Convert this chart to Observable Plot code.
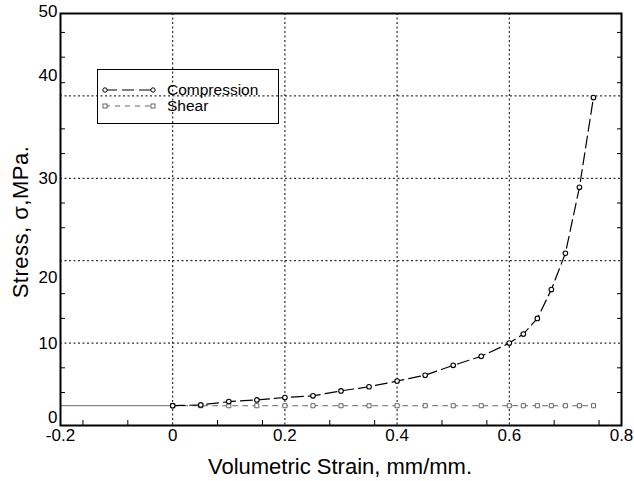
<!DOCTYPE html>
<html>
<head>
<meta charset="utf-8">
<script src="https://cdn.jsdelivr.net/npm/d3@7"></script>
<script src="https://cdn.jsdelivr.net/npm/@observablehq/plot@0.6"></script>
<style>
  html, body { margin: 0; padding: 0; background: #fff; }
  #wrap { position: relative; width: 634px; height: 481px; font-family: "Liberation Sans", Arial, sans-serif; }
  #xtitle { position: absolute; left: 340px; top: 467px; font-size: 22px; white-space: nowrap;
            transform: translate(-50%, -50%); }
  #ytitle { position: absolute; left: 21px; top: 222px; font-size: 22px; white-space: nowrap; letter-spacing: 0.5px;
            transform: translate(-50%, -50%) rotate(-90deg); }
  #legend { position: absolute; left: 97px; top: 69px; width: 180px; height: 53px; border: 1px solid #000; }
  #legend svg { position: absolute; left: 0; top: 0; }
</style>
</head>
<body>
<div id="wrap">
  <div id="chart"></div>
  <div id="xtitle">Volumetric Strain, mm/mm.</div>
  <div id="ytitle">Stress, σ,MPa.</div>
  <div id="legend"></div>
</div>
<script>
// ---- data ----
const strain = [0, 0.05, 0.1, 0.15, 0.2, 0.25, 0.3, 0.35, 0.4, 0.45, 0.5, 0.55, 0.6, 0.625, 0.65, 0.675, 0.7, 0.725, 0.75];
const compression = [2.4, 2.5, 2.9, 3.1, 3.4, 3.6, 4.2, 4.7, 5.4, 6.1, 7.3, 8.4, 10.0, 11.1, 13.0, 16.5, 20.9, 28.9, 39.8];
const shear = [2.4, 2.4, 2.4, 2.4, 2.4, 2.4, 2.4, 2.4, 2.4, 2.4, 2.4, 2.4, 2.4, 2.4, 2.4, 2.4, 2.4, 2.4, 2.4];
const preloadX = [-0.2, 0];
const preloadY = [2.4, 2.4];

const xTickVals = [-0.2, 0, 0.2, 0.4, 0.6, 0.8];
const xTickLabels = ["-0.2", "0", "0.2", "0.4", "0.6", "0.8"];
const xGrid = [0, 0.2, 0.4, 0.6];
const xMinor = [-0.16, -0.08, 0.08, 0.16, 0.28, 0.36, 0.48, 0.56, 0.68, 0.76];

const yTickLabels = ["0", "10", "20", "30", "40", "50"];
const yTickLabelPos = [1.0, 10, 18, 30, 42.5, 50.2];
const yGrid = [10, 20, 30, 40];
const yMinor = [4, 7, 13, 16, 24, 27, 33, 36, 41.6, 44.7, 47.7];

const seriesNames = ["Compression", "Shear"];

// ---- tables ----
const compData = strain.map((x, i) => ({x, y: compression[i]}));
const shearData = strain.map((x, i) => ({x, y: shear[i]}));
const preData = preloadX.map((x, i) => ({x, y: preloadY[i]}));
const xLabelMap = new Map(xTickVals.map((v, i) => [v, xTickLabels[i]]));
const yLabelMap = new Map(yTickLabelPos.map((v, i) => [v, yTickLabels[i]]));

const chart = Plot.plot({
  width: 634,
  height: 481,
  marginLeft: 60,
  marginRight: 13,
  marginTop: 13,
  marginBottom: 56,
  style: {fontFamily: "Liberation Sans, Arial, sans-serif", background: "white", color: "black"},
  x: {domain: [-0.2, 0.8], axis: null},
  y: {domain: [0, 50], axis: null},
  marks: [
    Plot.gridX(xGrid, {stroke: "black", strokeOpacity: 1, strokeWidth: 1, strokeDasharray: "2,2.5"}),
    Plot.gridY(yGrid, {stroke: "black", strokeOpacity: 1, strokeWidth: 1, strokeDasharray: "2,2.5"}),
    Plot.axisX(xMinor, {anchor: "bottom", tickSize: 5, dy: -5, tickFormat: () => "", strokeWidth: 1, label: null}),
    Plot.axisY(yMinor, {anchor: "left", tickSize: 5, dx: 5, tickFormat: () => "", strokeWidth: 1, label: null}),
    Plot.axisY(yMinor, {anchor: "right", tickSize: 5, dx: -5, tickFormat: () => "", strokeWidth: 1, label: null}),
    Plot.axisX(xTickVals, {anchor: "bottom", tickSize: 0, tickPadding: 3, fontSize: 17, tickFormat: d => xLabelMap.get(d), label: null}),
    Plot.axisY(yTickLabelPos, {anchor: "left", tickSize: 0, tickPadding: 3, fontSize: 17, tickFormat: d => yLabelMap.get(d), label: null}),
    Plot.line(preData, {x: "x", y: "y", stroke: "#888", strokeWidth: 1.2}),
    Plot.line(shearData, {x: "x", y: "y", stroke: "#666", strokeWidth: 1, strokeDasharray: "5,5"}),
    Plot.line(compData, {x: "x", y: "y", stroke: "black", strokeWidth: 1.2, strokeDasharray: "12,5"}),
    Plot.dot(shearData, {x: "x", y: "y", symbol: "square", r: 2.3, stroke: "#666", fill: "white", strokeWidth: 1}),
    Plot.dot(compData, {x: "x", y: "y", r: 2.3, stroke: "black", fill: "white", strokeWidth: 1.1}),
    Plot.frame({stroke: "black", strokeWidth: 2})
  ]
});
document.getElementById("chart").appendChild(chart);

// ---- legend ----
const lg = d3.select("#legend").append("svg").attr("width", 180).attr("height", 53);
const styles = [
  {stroke: "black", dash: "12,5", sym: "circle"},
  {stroke: "#666", dash: "5,5", sym: "square"}
];
seriesNames.forEach((name, i) => {
  const y = 20 + i * 16;
  const s = styles[i];
  lg.append("line").attr("x1", 7).attr("x2", 55).attr("y1", y).attr("y2", y)
    .attr("stroke", s.stroke).attr("stroke-width", 1.1).attr("stroke-dasharray", s.dash);
  [7, 55].forEach(cx => {
    if (s.sym === "circle") {
      lg.append("circle").attr("cx", cx).attr("cy", y).attr("r", 2.2)
        .attr("fill", "white").attr("stroke", s.stroke);
    } else {
      lg.append("rect").attr("x", cx - 2).attr("y", y - 2).attr("width", 4).attr("height", 4)
        .attr("fill", "white").attr("stroke", s.stroke);
    }
  });
  lg.append("text").attr("x", 69).attr("y", y).attr("dy", "0.35em")
    .attr("font-size", 15.5).attr("font-family", "Liberation Sans, Arial, sans-serif").text(name);
});
</script>
</body>
</html>
